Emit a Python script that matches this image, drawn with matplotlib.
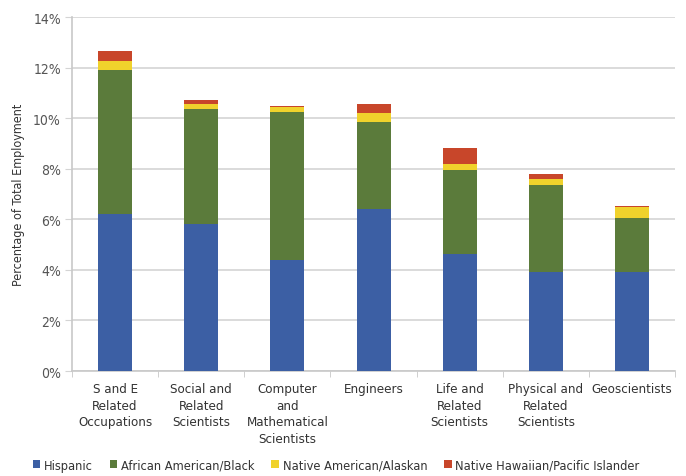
import matplotlib.pyplot as plt
import numpy as np
from matplotlib.ticker import FuncFormatter, FixedLocator

plt.rcParams['font.family'] = ['DejaVu Sans']
plt.rcParams['font.stretch'] = 'condensed'

categories = ['S and E\nRelated\nOccupations', 'Social and\nRelated\nScientists',
              'Computer\nand\nMathematical\nScientists', 'Engineers',
              'Life and\nRelated\nScientists', 'Physical and\nRelated\nScientists',
              'Geoscientists']
hispanic = [6.2, 5.8, 4.4, 6.4, 4.65, 3.9, 3.9]
black = [5.7, 4.55, 5.85, 3.45, 3.3, 3.45, 2.15]
native_am = [0.35, 0.2, 0.2, 0.37, 0.23, 0.25, 0.43]
pacific = [0.4, 0.17, 0.05, 0.33, 0.66, 0.18, 0.05]

series = [('Hispanic', hispanic, '#3c5fa4'),
          ('African American/Black', black, '#5b7b3b'),
          ('Native American/Alaskan', native_am, '#f0d22c'),
          ('Native Hawaiian/Pacific Islander', pacific, '#c8462a')]

fig = plt.figure(figsize=(6.86, 4.77), dpi=100)
ax = fig.add_axes([0.105, 0.22, 0.879, 0.742])

x = np.arange(len(categories))
bottom = np.zeros(len(categories))
for name, vals, col in series:
    ax.bar(x, vals, 0.395, bottom=bottom, color=col, label=name, zorder=3)
    bottom += np.array(vals)

ax.set_ylim(0, 14)
ax.set_xlim(-0.5, len(categories) - 0.5)
ax.set_yticks(np.arange(0, 15, 2))
ax.yaxis.set_major_formatter(FuncFormatter(lambda v, p: f'{v:.0f}%'))
ax.grid(axis='y', color='#d4d4d4', linewidth=1.2, zorder=0)
ax.set_ylabel('Percentage of Total Employment', fontsize=9, color='#333333', labelpad=6)

ax.set_xticks(x)
ax.set_xticklabels(categories, fontsize=9.5, color='#333333', va='top', linespacing=1.35)
ax.tick_params(axis='x', length=0, pad=8)
ax.xaxis.set_minor_locator(FixedLocator(np.arange(-0.5, len(categories), 1)))
ax.tick_params(axis='x', which='minor', length=4, color='#c8c8c8')
ax.tick_params(axis='y', length=5, color='#d4d4d4', pad=3, labelsize=10, labelcolor='#555555')

for s in ['top', 'right']:
    ax.spines[s].set_visible(False)
for s in ['left', 'bottom']:
    ax.spines[s].set_color('#c8c8c8')
    ax.spines[s].set_linewidth(1.2)

fig.legend(loc='lower center', bbox_to_anchor=(0.49, -0.015), ncol=4, frameon=False,
           fontsize=9.2, handlelength=0.6, handleheight=0.6, handletextpad=0.3,
           columnspacing=1.3, labelcolor='#333333')

fig.savefig('out.png', dpi=100)
